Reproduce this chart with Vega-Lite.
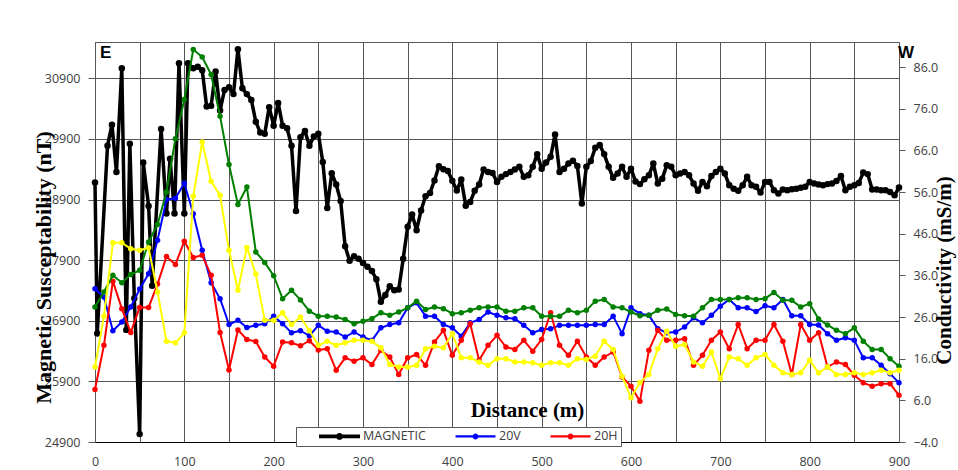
{
  "$schema": "https://vega.github.io/schema/vega-lite/v6.json",
  "width": 804,
  "height": 400,
  "autosize": {"type": "none"},
  "padding": {"left": 95, "top": 42, "right": 59, "bottom": 28},
  "background": "#ffffff",
  "config": {
    "view": {"stroke": "#595959", "strokeWidth": 1},
    "font": "Open Sans",
    "axis": {
      "labelFont": "Open Sans",
      "labelFontSize": 12.5,
      "labelColor": "#404040",
      "titleFont": "Liberation Serif",
      "titleFontWeight": "bold",
      "titleFontSize": 21,
      "titleColor": "#000000",
      "gridColor": "#555555",
      "gridOpacity": 1,
      "gridWidth": 1,
      "domainColor": "#595959",
      "tickColor": "#595959"
    }
  },
  "datasets": {
    "mag": [
      {"d": 0, "nT": 29180}, {"d": 2.5, "nT": 26690}, {"d": 14, "nT": 29790}, {"d": 19, "nT": 30135},
      {"d": 24, "nT": 29355}, {"d": 30, "nT": 31065}, {"d": 35, "nT": 26750}, {"d": 39, "nT": 29820},
      {"d": 44, "nT": 27270}, {"d": 50, "nT": 25030}, {"d": 54, "nT": 29510}, {"d": 60, "nT": 28795},
      {"d": 64, "nT": 27480}, {"d": 74, "nT": 30065}, {"d": 80, "nT": 28670}, {"d": 84, "nT": 29575},
      {"d": 89, "nT": 28670}, {"d": 94, "nT": 31150}, {"d": 100, "nT": 28670}, {"d": 104, "nT": 31150},
      {"d": 110, "nT": 31065}, {"d": 115, "nT": 31090}, {"d": 120, "nT": 31035}, {"d": 125, "nT": 30435},
      {"d": 130, "nT": 30450}, {"d": 135, "nT": 31015}, {"d": 140, "nT": 30370}, {"d": 145, "nT": 30710},
      {"d": 150, "nT": 30755}, {"d": 155, "nT": 30640}, {"d": 160, "nT": 31380}, {"d": 165, "nT": 30735},
      {"d": 170, "nT": 30640}, {"d": 175, "nT": 30545}, {"d": 180, "nT": 30185}, {"d": 185, "nT": 30005},
      {"d": 190, "nT": 29985}, {"d": 195, "nT": 30425}, {"d": 200, "nT": 30120}, {"d": 205, "nT": 30495},
      {"d": 210, "nT": 30120}, {"d": 215, "nT": 30075}, {"d": 220, "nT": 29790}, {"d": 225, "nT": 28710},
      {"d": 230, "nT": 29930}, {"d": 235, "nT": 30030}, {"d": 240, "nT": 29790}, {"d": 245, "nT": 29940},
      {"d": 250, "nT": 29985}, {"d": 255, "nT": 29520}, {"d": 260, "nT": 28760}, {"d": 265, "nT": 29335},
      {"d": 270, "nT": 29150}, {"d": 275, "nT": 28875}, {"d": 280, "nT": 28130}, {"d": 285, "nT": 27890},
      {"d": 290, "nT": 27965}, {"d": 295, "nT": 27925}, {"d": 300, "nT": 27855}, {"d": 305, "nT": 27790},
      {"d": 310, "nT": 27720}, {"d": 315, "nT": 27585}, {"d": 320, "nT": 27215}, {"d": 325, "nT": 27325},
      {"d": 330, "nT": 27470}, {"d": 335, "nT": 27405}, {"d": 340, "nT": 27415}, {"d": 345, "nT": 27925},
      {"d": 350, "nT": 28450}, {"d": 355, "nT": 28655}, {"d": 360, "nT": 28395}, {"d": 365, "nT": 28720},
      {"d": 370, "nT": 28955}, {"d": 375, "nT": 29010}, {"d": 380, "nT": 29215}, {"d": 385, "nT": 29450},
      {"d": 390, "nT": 29400}, {"d": 395, "nT": 29370}, {"d": 400, "nT": 29210}, {"d": 405, "nT": 29050},
      {"d": 410, "nT": 29230}, {"d": 415, "nT": 28800}, {"d": 420, "nT": 28860}, {"d": 425, "nT": 29045},
      {"d": 430, "nT": 29150}, {"d": 435, "nT": 29395}, {"d": 440, "nT": 29355}, {"d": 445, "nT": 29340},
      {"d": 450, "nT": 29190}, {"d": 455, "nT": 29275}, {"d": 460, "nT": 29320}, {"d": 465, "nT": 29355},
      {"d": 470, "nT": 29395}, {"d": 475, "nT": 29440}, {"d": 480, "nT": 29275}, {"d": 485, "nT": 29300},
      {"d": 490, "nT": 29440}, {"d": 495, "nT": 29650}, {"d": 500, "nT": 29410}, {"d": 505, "nT": 29510},
      {"d": 510, "nT": 29605}, {"d": 515, "nT": 29975}, {"d": 520, "nT": 29355}, {"d": 525, "nT": 29410},
      {"d": 530, "nT": 29495}, {"d": 535, "nT": 29540}, {"d": 540, "nT": 29455}, {"d": 545, "nT": 28835},
      {"d": 550, "nT": 29440}, {"d": 555, "nT": 29535}, {"d": 560, "nT": 29755}, {"d": 565, "nT": 29800},
      {"d": 570, "nT": 29650}, {"d": 575, "nT": 29440}, {"d": 580, "nT": 29260}, {"d": 585, "nT": 29330},
      {"d": 590, "nT": 29440}, {"d": 595, "nT": 29275}, {"d": 600, "nT": 29410}, {"d": 605, "nT": 29200},
      {"d": 610, "nT": 29155}, {"d": 615, "nT": 29235}, {"d": 620, "nT": 29300}, {"d": 625, "nT": 29495},
      {"d": 630, "nT": 29165}, {"d": 635, "nT": 29245}, {"d": 640, "nT": 29465}, {"d": 645, "nT": 29440},
      {"d": 650, "nT": 29300}, {"d": 655, "nT": 29330}, {"d": 660, "nT": 29355}, {"d": 665, "nT": 29300},
      {"d": 670, "nT": 29165}, {"d": 675, "nT": 29045}, {"d": 680, "nT": 29190}, {"d": 685, "nT": 29120},
      {"d": 690, "nT": 29290}, {"d": 695, "nT": 29355}, {"d": 700, "nT": 29410}, {"d": 705, "nT": 29330},
      {"d": 710, "nT": 29135}, {"d": 715, "nT": 29080}, {"d": 720, "nT": 29045}, {"d": 725, "nT": 29135},
      {"d": 730, "nT": 29275}, {"d": 735, "nT": 29135}, {"d": 740, "nT": 29110}, {"d": 745, "nT": 29015},
      {"d": 750, "nT": 29190}, {"d": 755, "nT": 29190}, {"d": 760, "nT": 29055}, {"d": 765, "nT": 29000},
      {"d": 770, "nT": 29065}, {"d": 775, "nT": 29055}, {"d": 780, "nT": 29070}, {"d": 785, "nT": 29080},
      {"d": 790, "nT": 29095}, {"d": 795, "nT": 29110}, {"d": 800, "nT": 29190}, {"d": 805, "nT": 29165},
      {"d": 810, "nT": 29150}, {"d": 815, "nT": 29135}, {"d": 820, "nT": 29155}, {"d": 825, "nT": 29165},
      {"d": 830, "nT": 29205}, {"d": 835, "nT": 29290}, {"d": 840, "nT": 29055}, {"d": 845, "nT": 29110},
      {"d": 850, "nT": 29135}, {"d": 855, "nT": 29175}, {"d": 860, "nT": 29345}, {"d": 865, "nT": 29320},
      {"d": 870, "nT": 29065}, {"d": 875, "nT": 29065}, {"d": 880, "nT": 29055}, {"d": 885, "nT": 29055},
      {"d": 890, "nT": 29025}, {"d": 895, "nT": 28970}, {"d": 900, "nT": 29100}
    ],
    "cond": [
      {"d": 0, "V20": 32.8, "H20": 8.6, "V40": 28.4, "H40": 14.0},
      {"d": 10, "V20": 30.8, "H20": 19.2, "V40": 32.0, "H40": 26.2},
      {"d": 20, "V20": 22.7, "H20": 34.6, "V40": 36.0, "H40": 43.8},
      {"d": 30, "V20": 24.8, "H20": 28.0, "V40": 34.2, "H40": 43.8},
      {"d": 40, "V20": 28.4, "H20": 22.3, "V40": 36.2, "H40": 42.4},
      {"d": 50, "V20": 32.7, "H20": 28.3, "V40": 37.2, "H40": 42.0},
      {"d": 60, "V20": 36.4, "H20": 28.3, "V40": 44.0, "H40": 42.6},
      {"d": 70, "V20": 44.4, "H20": 33.9, "V40": 48.2, "H40": 32.0},
      {"d": 80, "V20": 54.2, "H20": 40.5, "V40": 56.0, "H40": 20.2},
      {"d": 90, "V20": 54.5, "H20": 38.6, "V40": 68.8, "H40": 19.8},
      {"d": 100, "V20": 58.1, "H20": 44.2, "V40": 78.2, "H40": 22.2},
      {"d": 110, "V20": 50.8, "H20": 40.3, "V40": 90.2, "H40": 55.0},
      {"d": 120, "V20": 42.0, "H20": 40.8, "V40": 88.4, "H40": 68.0},
      {"d": 130, "V20": 34.2, "H20": 36.0, "V40": 84.2, "H40": 58.6},
      {"d": 140, "V20": 30.4, "H20": 22.3, "V40": 74.2, "H40": 55.2},
      {"d": 150, "V20": 24.2, "H20": 13.3, "V40": 62.6, "H40": 42.0},
      {"d": 160, "V20": 25.2, "H20": 22.9, "V40": 53.0, "H40": 32.4},
      {"d": 170, "V20": 23.5, "H20": 20.6, "V40": 57.2, "H40": 42.7},
      {"d": 180, "V20": 24.0, "H20": 20.1, "V40": 41.6, "H40": 36.3},
      {"d": 190, "V20": 24.4, "H20": 16.4, "V40": 39.1, "H40": 25.2},
      {"d": 200, "V20": 26.2, "H20": 14.2, "V40": 35.9, "H40": 25.2},
      {"d": 210, "V20": 24.4, "H20": 20.0, "V40": 30.4, "H40": 27.0},
      {"d": 220, "V20": 22.2, "H20": 19.8, "V40": 32.4, "H40": 24.2},
      {"d": 230, "V20": 22.7, "H20": 19.1, "V40": 30.1, "H40": 26.0},
      {"d": 240, "V20": 21.5, "H20": 20.3, "V40": 27.4, "H40": 22.7},
      {"d": 250, "V20": 24.0, "H20": 18.1, "V40": 26.2, "H40": 19.2},
      {"d": 260, "V20": 22.6, "H20": 18.4, "V40": 26.2, "H40": 20.2},
      {"d": 270, "V20": 22.4, "H20": 13.2, "V40": 26.0, "H40": 19.2},
      {"d": 280, "V20": 21.2, "H20": 16.2, "V40": 25.4, "H40": 19.8},
      {"d": 290, "V20": 22.4, "H20": 15.4, "V40": 24.4, "H40": 20.4},
      {"d": 300, "V20": 21.2, "H20": 16.2, "V40": 25.0, "H40": 20.4},
      {"d": 310, "V20": 20.4, "H20": 14.6, "V40": 25.6, "H40": 20.2},
      {"d": 320, "V20": 23.4, "H20": 18.0, "V40": 27.0, "H40": 18.6},
      {"d": 330, "V20": 24.2, "H20": 16.4, "V40": 26.4, "H40": 14.6},
      {"d": 340, "V20": 24.6, "H20": 12.2, "V40": 27.2, "H40": 14.0},
      {"d": 350, "V20": 28.2, "H20": 16.2, "V40": 28.2, "H40": 14.0},
      {"d": 360, "V20": 29.4, "H20": 17.0, "V40": 29.8, "H40": 14.4},
      {"d": 370, "V20": 26.2, "H20": 14.4, "V40": 27.8, "H40": 18.4},
      {"d": 380, "V20": 26.2, "H20": 20.0, "V40": 28.4, "H40": 19.0},
      {"d": 390, "V20": 24.2, "H20": 22.8, "V40": 28.0, "H40": 18.6},
      {"d": 400, "V20": 23.4, "H20": 16.8, "V40": 26.8, "H40": 22.0},
      {"d": 410, "V20": 21.4, "H20": 20.4, "V40": 27.0, "H40": 16.2},
      {"d": 420, "V20": 24.6, "H20": 24.4, "V40": 27.6, "H40": 16.2},
      {"d": 430, "V20": 25.4, "H20": 15.6, "V40": 28.2, "H40": 15.2},
      {"d": 440, "V20": 27.2, "H20": 19.2, "V40": 28.4, "H40": 14.4},
      {"d": 450, "V20": 26.4, "H20": 21.6, "V40": 28.4, "H40": 16.0},
      {"d": 460, "V20": 25.8, "H20": 18.8, "V40": 27.4, "H40": 16.0},
      {"d": 470, "V20": 25.6, "H20": 18.2, "V40": 27.4, "H40": 15.2},
      {"d": 480, "V20": 24.0, "H20": 20.4, "V40": 28.2, "H40": 15.2},
      {"d": 490, "V20": 22.2, "H20": 17.8, "V40": 28.2, "H40": 15.0},
      {"d": 500, "V20": 23.0, "H20": 20.6, "V40": 26.2, "H40": 14.4},
      {"d": 510, "V20": 23.2, "H20": 27.0, "V40": 26.2, "H40": 15.0},
      {"d": 520, "V20": 24.0, "H20": 19.2, "V40": 26.2, "H40": 15.0},
      {"d": 530, "V20": 24.0, "H20": 16.8, "V40": 27.6, "H40": 14.4},
      {"d": 540, "V20": 24.0, "H20": 20.2, "V40": 27.0, "H40": 16.0},
      {"d": 550, "V20": 24.0, "H20": 16.4, "V40": 27.6, "H40": 15.8},
      {"d": 560, "V20": 24.2, "H20": 14.4, "V40": 29.8, "H40": 16.6},
      {"d": 570, "V20": 24.2, "H20": 16.4, "V40": 30.2, "H40": 20.2},
      {"d": 580, "V20": 26.2, "H20": 17.6, "V40": 28.4, "H40": 18.2},
      {"d": 590, "V20": 22.0, "H20": 11.6, "V40": 28.2, "H40": 11.8},
      {"d": 600, "V20": 28.2, "H20": 9.4, "V40": 27.2, "H40": 6.6},
      {"d": 610, "V20": 26.8, "H20": 5.8, "V40": 26.3, "H40": 10.3},
      {"d": 620, "V20": 26.4, "H20": 18.0, "V40": 26.4, "H40": 12.2},
      {"d": 630, "V20": 23.2, "H20": 22.8, "V40": 27.6, "H40": 18.4},
      {"d": 640, "V20": 22.2, "H20": 20.4, "V40": 27.9, "H40": 22.6},
      {"d": 650, "V20": 22.4, "H20": 20.4, "V40": 26.6, "H40": 19.0},
      {"d": 660, "V20": 23.6, "H20": 20.8, "V40": 26.3, "H40": 19.4},
      {"d": 670, "V20": 25.8, "H20": 14.4, "V40": 26.2, "H40": 15.2},
      {"d": 680, "V20": 24.6, "H20": 16.8, "V40": 28.2, "H40": 14.2},
      {"d": 690, "V20": 26.4, "H20": 20.4, "V40": 30.2, "H40": 17.6},
      {"d": 700, "V20": 28.6, "H20": 22.4, "V40": 30.2, "H40": 11.2},
      {"d": 710, "V20": 30.2, "H20": 18.4, "V40": 30.2, "H40": 16.4},
      {"d": 720, "V20": 28.2, "H20": 24.2, "V40": 30.6, "H40": 16.0},
      {"d": 730, "V20": 28.2, "H20": 18.4, "V40": 30.6, "H40": 14.4},
      {"d": 740, "V20": 27.3, "H20": 20.4, "V40": 30.2, "H40": 16.2},
      {"d": 750, "V20": 28.7, "H20": 20.4, "V40": 30.4, "H40": 17.0},
      {"d": 760, "V20": 28.2, "H20": 24.2, "V40": 31.9, "H40": 14.4},
      {"d": 770, "V20": 30.2, "H20": 20.2, "V40": 30.0, "H40": 12.6},
      {"d": 780, "V20": 26.3, "H20": 12.2, "V40": 30.0, "H40": 12.2},
      {"d": 790, "V20": 26.3, "H20": 24.2, "V40": 28.4, "H40": 12.6},
      {"d": 800, "V20": 24.2, "H20": 20.4, "V40": 29.2, "H40": 15.6},
      {"d": 810, "V20": 24.1, "H20": 22.2, "V40": 25.5, "H40": 12.6},
      {"d": 820, "V20": 22.0, "H20": 14.0, "V40": 24.1, "H40": 14.0},
      {"d": 830, "V20": 20.4, "H20": 15.2, "V40": 22.8, "H40": 12.2},
      {"d": 840, "V20": 21.0, "H20": 14.6, "V40": 22.0, "H40": 12.2},
      {"d": 850, "V20": 20.4, "H20": 12.0, "V40": 23.4, "H40": 12.6},
      {"d": 860, "V20": 16.2, "H20": 10.2, "V40": 20.2, "H40": 12.2},
      {"d": 870, "V20": 16.2, "H20": 9.4, "V40": 18.2, "H40": 12.6},
      {"d": 880, "V20": 14.4, "H20": 10.0, "V40": 18.2, "H40": 13.2},
      {"d": 890, "V20": 12.4, "H20": 10.0, "V40": 16.0, "H40": 12.6},
      {"d": 900, "V20": 10.2, "H20": 7.2, "V40": 14.2, "H40": 13.2}
    ],
    "sideE": [{"d": 0, "side": "E"}],
    "sideW": [{"d": 900, "side": "W"}]
  },
  "encoding": {
    "x": {
      "field": "d",
      "type": "quantitative",
      "scale": {"domain": [0, 900], "nice": false, "zero": false},
      "axis": {
        "values": [0, 50, 100, 150, 200, 250, 300, 350, 400, 450, 500, 550, 600, 650, 700, 750, 800, 850, 900],
        "labelExpr": "datum.value % 100 === 0 ? datum.label : ''",
        "labelFlush": false,
        "labelOverlap": false,
        "grid": true,
        "ticks": false,
        "labelPadding": 13,
        "domainColor": "#000000",
        "title": "Distance (m)",
        "titleX": 432,
        "titleY": -26,
        "titleAlign": "center",
        "titleBaseline": "alphabetic"
      }
    }
  },
  "layer": [
    {
      "data": {"name": "mag"},
      "mark": {"type": "line", "strokeWidth": 3.5, "strokeJoin": "round", "point": {"filled": true, "size": 42}},
      "encoding": {
        "y": {
          "field": "nT",
          "type": "quantitative",
          "scale": {"domain": [24900, 31500], "nice": false, "zero": false},
          "axis": {
            "orient": "left",
            "values": [24900, 25900, 26900, 27900, 28900, 29900, 30900],
            "format": "d",
            "grid": true,
            "tickSize": 7,
            "labelPadding": 8,
            "title": "Magnetic Susceptability  (nT)",
            "titleFontSize": 22,
            "titleAngle": 270,
            "titleX": -52,
            "titleY": 225,
            "titleAlign": "center",
            "titleBaseline": "middle"
          }
        },
        "color": {
          "datum": "MAGNETIC",
          "type": "nominal",
          "scale": {
            "domain": ["MAGNETIC", "20V", "20H", "40V", "40H"],
            "range": ["#000000", "#0000ff", "#ff0000", "#008000", "#ffff00"]
          },
          "legend": {
            "orient": "none",
            "legendX": 201,
            "legendY": 385,
            "direction": "horizontal",
            "columns": 3,
            "values": ["MAGNETIC", "20V", "20H"],
            "title": null,
            "padding": 3,
            "strokeColor": "#595959",
            "fillColor": "#ffffff",
            "labelFont": "Open Sans",
            "labelFontSize": 12.5,
            "labelColor": "#404040",
            "symbolSize": 144,
            "symbolStrokeWidth": 0,
            "symbolOffset": 34.25,
            "labelOffset": 17.25,
            "columnPadding": 9,
            "symbolType": "M-3.33,-0.17H3.33V0.17H-3.33Z M-0.5,0A0.5,0.5 0 1,1 0.5,0A0.5,0.5 0 1,1 -0.5,0Z",
            "encode": {
              "symbols": {
                "update": {
                  "shape": {"signal": "datum.value === 'MAGNETIC' ? 'M-3.42,-0.33H3.42V0.33H-3.42Z M-0.58,0A0.58,0.58 0 1,1 0.58,0A0.58,0.58 0 1,1 -0.58,0Z' : 'M-3.33,-0.17H3.33V0.17H-3.33Z M-0.5,0A0.5,0.5 0 1,1 0.5,0A0.5,0.5 0 1,1 -0.5,0Z'"},
                  "fill": {"scale": "color", "field": "value"},
                  "stroke": {"value": "transparent"},
                  "opacity": {"value": 1}
                }
              }
            }
          }
        }
      }
    },
    {
      "data": {"name": "cond"},
      "layer": [
        {
          "mark": {"type": "line", "strokeWidth": 2, "strokeJoin": "round", "point": {"filled": true, "size": 30}},
          "encoding": {
            "y": {"field": "V20", "type": "quantitative", "scale": {"domain": [-4, 92], "nice": false, "zero": false},
              "axis": {"orient": "right", "values": [-4, 6, 16, 26, 36, 46, 56, 66, 76, 86], "format": ".1f", "grid": false, "tickSize": 6, "labelPadding": 8,
                "title": "Conductivity  (mS/m)", "titleAngle": 270, "titleX": 45, "titleY": 228, "titleAlign": "center", "titleBaseline": "middle"}},
            "color": {"datum": "20V", "type": "nominal"}
          }
        },
        {
          "mark": {"type": "line", "strokeWidth": 2, "strokeJoin": "round", "point": {"filled": true, "size": 30}},
          "encoding": {
            "y": {"field": "H20", "type": "quantitative", "scale": {"domain": [-4, 92], "nice": false, "zero": false},
              "axis": {"orient": "right", "values": [-4, 6, 16, 26, 36, 46, 56, 66, 76, 86], "format": ".1f", "grid": false, "tickSize": 6, "labelPadding": 8,
                "title": "Conductivity  (mS/m)", "titleAngle": 270, "titleX": 45, "titleY": 228, "titleAlign": "center", "titleBaseline": "middle"}},
            "color": {"datum": "20H", "type": "nominal"}
          }
        },
        {
          "mark": {"type": "line", "strokeWidth": 2, "strokeJoin": "round", "point": {"filled": true, "size": 30}},
          "encoding": {
            "y": {"field": "V40", "type": "quantitative", "scale": {"domain": [-4, 92], "nice": false, "zero": false},
              "axis": {"orient": "right", "values": [-4, 6, 16, 26, 36, 46, 56, 66, 76, 86], "format": ".1f", "grid": false, "tickSize": 6, "labelPadding": 8,
                "title": "Conductivity  (mS/m)", "titleAngle": 270, "titleX": 45, "titleY": 228, "titleAlign": "center", "titleBaseline": "middle"}},
            "color": {"datum": "40V", "type": "nominal"}
          }
        },
        {
          "mark": {"type": "line", "strokeWidth": 2, "strokeJoin": "round", "point": {"filled": true, "size": 30}},
          "encoding": {
            "y": {"field": "H40", "type": "quantitative", "scale": {"domain": [-4, 92], "nice": false, "zero": false},
              "axis": {"orient": "right", "values": [-4, 6, 16, 26, 36, 46, 56, 66, 76, 86], "format": ".1f", "grid": false, "tickSize": 6, "labelPadding": 8,
                "title": "Conductivity  (mS/m)", "titleAngle": 270, "titleX": 45, "titleY": 228, "titleAlign": "center", "titleBaseline": "middle"}},
            "color": {"datum": "40H", "type": "nominal"}
          }
        }
      ]
    },
    {
      "data": {"name": "sideE"},
      "mark": {"type": "text", "font": "Liberation Sans", "fontWeight": "bold", "fontSize": 17, "align": "left", "baseline": "top", "dx": 5, "dy": 3, "color": "black"},
      "encoding": {
        "y": {"datum": 1, "type": "quantitative", "scale": {"domain": [0, 1]}, "axis": null},
        "text": {"field": "side", "type": "nominal"}
      }
    },
    {
      "data": {"name": "sideW"},
      "mark": {"type": "text", "font": "Liberation Sans", "fontWeight": "bold", "fontSize": 17, "align": "left", "baseline": "top", "dx": -1, "dy": 3, "color": "black"},
      "encoding": {
        "y": {"datum": 1, "type": "quantitative", "scale": {"domain": [0, 1]}, "axis": null},
        "text": {"field": "side", "type": "nominal"}
      }
    }
  ],
  "resolve": {"scale": {"y": "independent"}}
}
